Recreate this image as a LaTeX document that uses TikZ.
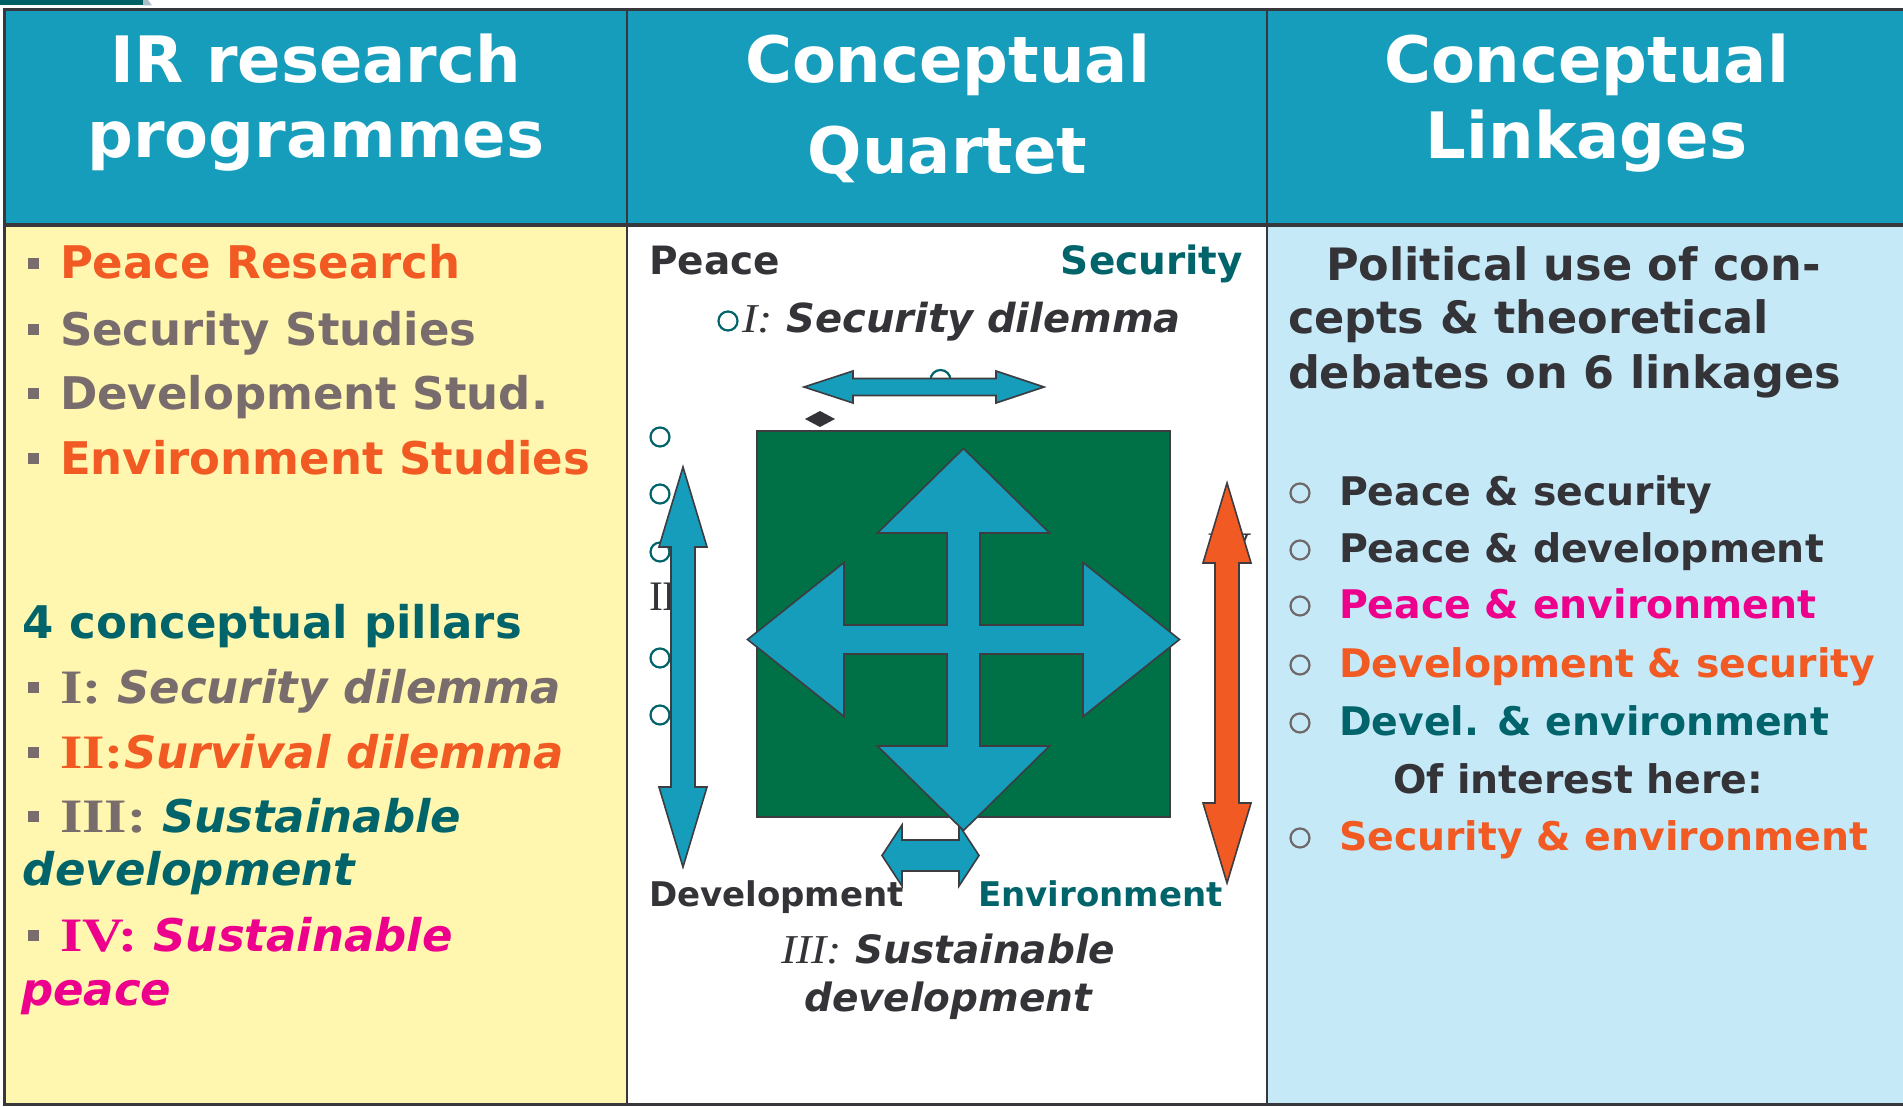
\documentclass[tikz,border=0pt]{standalone}
\usepackage{fontspec}
\setmainfont{DejaVu Sans}
\newfontfamily\numserif{Liberation Serif}

\definecolor{headblue}{RGB}{22,157,187}
\definecolor{stripteal}{RGB}{0,96,100}
\definecolor{stripgrey}{RGB}{170,190,200}
\definecolor{paleyellow}{RGB}{255,247,176}
\definecolor{paleblue}{RGB}{198,233,248}
\definecolor{gridgrey}{RGB}{55,55,60}
\definecolor{darktext}{RGB}{51,51,56}
\definecolor{greytext}{RGB}{120,108,108}
\definecolor{deepteal}{RGB}{0,100,106}
\definecolor{flame}{RGB}{241,90,34}
\definecolor{magentapink}{RGB}{236,0,140}
\definecolor{quadgreen}{RGB}{0,112,70}
\definecolor{edgegrey}{RGB}{60,60,65}
\definecolor{ringgrey}{RGB}{110,104,104}

\newcommand\fsz[1]{\fontsize{#1}{#1}\selectfont}
% roman numerals in a widened bold serif
\newcommand\rnb[1]{{\numserif\bfseries\upshape\fsz{48}\scalebox{1.2}[1]{#1}}}
% roman numerals in a light serif italic
\newcommand\rni[1]{{\numserif\mdseries\itshape\fsz{41}\scalebox{1.12}[1]{#1}}}

\begin{document}
\begin{tikzpicture}[x=1pt,y=-1pt,
  txt/.style={inner sep=0pt,outer sep=0pt,font=\bfseries},
  headtxt/.style={txt,anchor=base,text=white,font=\bfseries\fsz{64}},
  lefttxt/.style={txt,anchor=base west,font=\bfseries\fsz{45}},
  linktxt/.style={txt,anchor=base west,font=\bfseries\fsz{39.4}},
  gridline/.style={draw=gridgrey,line width=2.6},
  sqbullet/.style={fill=greytext},
  tealring/.style={draw=deepteal,line width=2.2,fill=white},
  greyring/.style={draw=ringgrey,line width=2.2},
  solid shape/.style={draw=edgegrey,line width=1.6,line join=miter},
]
\useasboundingbox (0,0) rectangle (1903,1107);
\fill[white] (0,0) rectangle (1903,1107);

% small strip above the table
\fill[stripteal] (0,0) rectangle (143,5.5);
\fill[stripgrey] (143,0) -- (148,0) -- (152,5.5) -- (143,5.5) -- cycle;

% cell backgrounds
\fill[headblue] (4.5,9.5) rectangle (1910,225);
\fill[paleyellow] (4.5,225) rectangle (627,1104.5);
\fill[white] (627,225) rectangle (1267,1104.5);
\fill[paleblue] (1267,225) rectangle (1910,1104.5);

% table rules
\draw[gridline,line width=3.8] (1910,9.5) -- (4.5,9.5);
\draw[gridline,line width=3.8] (4.5,225) -- (1910,225);
\draw[gridline] (4.5,8) -- (4.5,1104.5) -- (1910,1104.5);
\draw[gridline] (627,9.5) -- (627,1104.5);
\draw[gridline] (1267,9.5) -- (1267,1104.5);

% header row
\node[headtxt] (h1a) at (316,83) {IR research};
\node[headtxt] (h1b) at (316,158) {programmes};
\node[headtxt] (h2a) at (947.5,83) {Conceptual};
\node[headtxt] (h2b) at (947.5,174) {Quartet};
\node[headtxt] (h3a) at (1586.5,83) {Conceptual};
\node[headtxt] (h3b) at (1586.5,159) {Linkages};

% ---------- first column ----------
\foreach \b in {279,345,409,474,703,768,832,951}
  \fill[sqbullet] (28,\b-21) rectangle (39,\b-10);
\node[lefttxt,text=flame] (p1) at (60,279) {Peace Research};
\node[lefttxt,text=greytext] (p2) at (60,345) {Security Studies};
\node[lefttxt,text=greytext] (p3) at (60,409) {Development Stud.};
\node[lefttxt,text=flame] (p4) at (60,474) {Environment Studies};

\node[lefttxt,text=deepteal] (pil) at (23,638) {4 conceptual pillars};
\node[lefttxt,text=greytext] (c1) at (60,703) {\rnb{I:} \itshape Security dilemma};
\node[lefttxt,text=flame] (c2) at (60,768) {\rnb{II:}\itshape Survival dilemma};
\node[lefttxt,text=greytext] (c3) at (60,832) {\rnb{III:} \textcolor{deepteal}{\itshape Sustainable}};
\node[lefttxt,text=deepteal] (c3b) at (23,885) {\itshape development};
\node[lefttxt,text=magentapink] (c4) at (60,951) {\rnb{IV:} \itshape Sustainable};
\node[lefttxt,text=magentapink] (c4b) at (21,1005) {\itshape peace};

% ---------- second column ----------
\node[txt,anchor=base west,text=darktext,font=\bfseries\fsz{39}] (peace) at (649,275) {Peace};
\node[txt,anchor=base east,text=deepteal,font=\bfseries\fsz{39}] (security) at (1243,275) {Security};
\draw[tealring] (728,321) circle[radius=9.5];
\node[txt,anchor=base west,text=darktext,font=\bfseries\fsz{40}] (sd) at (742,332) {\rni{I:} \itshape Security dilemma};

% rings and numerals lying under the arrows
\foreach \y in {437,494,552,658,715}
  \draw[tealring] (660,\y) circle[radius=9.5];
\draw[tealring] (940.5,380) circle[radius=10];
\node[txt,anchor=base west,text=darktext,font=\numserif\mdseries\fsz{42}] (two) at (649,610) {II};
\node[txt,anchor=base west,text=darktext,font=\numserif\mdseries\fsz{42}] (four) at (1207,561) {IV};

% green field
\draw[solid shape,fill=quadgreen] (757,431) rectangle (1170,817);
% small diamond
\fill[darktext] (805,419) -- (820,411) -- (835,419) -- (820,427) -- cycle;

% top double arrow
\draw[solid shape,fill=headblue] (804,387) -- (853,371) -- (853,378.5) -- (996,378.5) -- (996,371)
  -- (1044,387) -- (996,403) -- (996,395.5) -- (853,395.5) -- (853,403) -- cycle;
% left vertical double arrow
\draw[solid shape,fill=headblue] (683,467) -- (707,547) -- (695,547) -- (695,787) -- (707,787)
  -- (683,867) -- (659,787) -- (671,787) -- (671,547) -- (659,547) -- cycle;
% right vertical double arrow
\draw[solid shape,fill=flame] (1227,483) -- (1251,563) -- (1239,563) -- (1239,803) -- (1251,803)
  -- (1227,883) -- (1203,803) -- (1215,803) -- (1215,563) -- (1203,563) -- cycle;
% short double arrow at the bottom
\draw[solid shape,fill=headblue] (882,855.5) -- (902,825) -- (902,840) -- (959,840) -- (959,825)
  -- (979,855.5) -- (959,886) -- (959,871) -- (902,871) -- (902,886) -- cycle;
% four-way arrow
\begin{scope}[shift={(963.5,639.5)}]
\draw[solid shape,fill=headblue] (0,-191) -- (86,-106.5) -- (16.5,-106.5) -- (16.5,-14.5)
  -- (119.5,-14.5) -- (119.5,-77) -- (216,0) -- (119.5,77) -- (119.5,14.5)
  -- (16.5,14.5) -- (16.5,106.5) -- (86,106.5) -- (0,191) -- (-86,106.5)
  -- (-16.5,106.5) -- (-16.5,14.5) -- (-119.5,14.5) -- (-119.5,77) -- (-216,0)
  -- (-119.5,-77) -- (-119.5,-14.5) -- (-16.5,-14.5) -- (-16.5,-106.5)
  -- (-86,-106.5) -- cycle;
\end{scope}

\node[txt,anchor=base west,text=darktext,font=\bfseries\fsz{34}] (dev) at (649,906) {Development};
\node[txt,anchor=base west,text=deepteal,font=\bfseries\fsz{34}] (env) at (978,906) {Environment};
\node[txt,anchor=base,text=darktext,font=\bfseries\fsz{39}] (sus1) at (948,963) {\rni{III:} \itshape Sustainable};
\node[txt,anchor=base,text=darktext,font=\bfseries\itshape\fsz{39}] (sus2) at (948,1011) {development};

% ---------- third column ----------
\node[txt,anchor=base west,text=darktext,font=\bfseries\fsz{44.6}] (pol1) at (1326,280) {Political use of con-};
\node[txt,anchor=base west,text=darktext,font=\bfseries\fsz{44.6}] (pol2) at (1288,334) {cepts \& theoretical};
\node[txt,anchor=base west,text=darktext,font=\bfseries\fsz{44.6}] (pol3) at (1288,388) {debates on 6 linkages};

\foreach \b in {505,562,618,677,735,850}
  \draw[greyring] (1300,\b-12) circle[radius=9.5];
\node[linktxt,text=darktext] (l1) at (1339,505) {Peace \& security};
\node[linktxt,text=darktext] (l2) at (1339,562) {Peace \& development};
\node[linktxt,text=magentapink] (l3) at (1339,618) {Peace \& environment};
\node[linktxt,text=flame] (l4) at (1339,677) {Development \& security};
\node[linktxt,text=deepteal] (l5) at (1339,735) {Devel. \& environment};
\node[linktxt,text=darktext] (l6) at (1393,793) {Of interest here:};
\node[linktxt,text=flame] (l7) at (1339,850) {Security \& environment};
\end{tikzpicture}
\end{document}
